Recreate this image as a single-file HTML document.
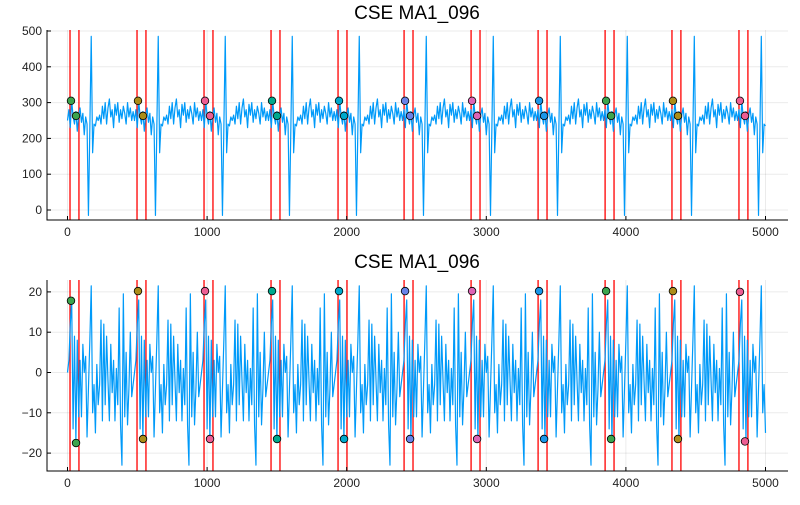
<!DOCTYPE html>
<html><head><meta charset="utf-8"><style>
body{margin:0;background:#fff;font-family:"Liberation Sans",sans-serif}
svg text{font-family:"Liberation Sans",sans-serif}
</style></head><body>
<svg id="c" width="800" height="500" xmlns="http://www.w3.org/2000/svg"></svg>
<script>
const topBeat=[250,280,230,305,262,240,275,220,265,285,245,270,210,260,240,-15,230,485,160,240,235,260,250,265,240,290,255,300,240,285,310,260,280,230,295,265,300,245,280,255,290,270,240,300,260,285,250,275];
const botBeat=[0,3,12,18,-14,9,-17,8,-11,3,-11,7,0,4,-16,-4,8,21.5,-10,-3,-15,2,-8,-3,13,-12,12,-8,9,-2,-12,7,-5,3,-12,1,-8,16,-13,-23,19.5,-11,5,-13,-4,10,-6,-3];
const beatStarts=[25,505,985,1465,1945,2418,2898,3378,3858,4337,4817];
const beatColors=["#3da44d","#ac8d18","#ed5e93","#00a98d","#00a8cb","#6a82e8","#de64b5","#1a96e8","#3da44d","#ac8d18","#ed5e93"];
const topUpper=[305,305,305,305,305,305,305,305,305,305,305];
const topLower=[263,263,263,263,263,263,263,263,263,263,263];
const botUpper=[17.8,20.2,20.2,20.2,20.2,20.2,20.2,20.2,20.2,20.2,20];
const botLower=[-17.5,-16.5,-16.5,-16.5,-16.5,-16.5,-16.5,-16.5,-16.5,-16.5,-17.1];
const xTicks=[0,1000,2000,3000,4000,5000];
const topYTicks=[0,100,200,300,400,500];
const botYTicks=[-20,-10,0,10,20];
const lowerOffset=36, redA=-7, redB=57;

const NS="http://www.w3.org/2000/svg";
const svg=document.getElementById('c');
function el(t,a,p){const e=document.createElementNS(NS,t);for(const k in a)e.setAttribute(k,a[k]);(p||svg).appendChild(e);return e;}
const sx=v=>67.5+v*0.1396;

function panel(name,top,bottom,yScale,yTicks,beat,upper,lower){
  const g=el('g',{});
  
  
  xTicks.forEach(t=>{const l=el('line',{x1:sx(t),x2:sx(t),y1:top,y2:bottom,stroke:'#000','stroke-opacity':0.08,'stroke-width':1},g);
    });
  yTicks.forEach(t=>{const l=el('line',{x1:47,x2:788,y1:yScale(t),y2:yScale(t),stroke:'#000','stroke-opacity':0.08,'stroke-width':1},g);
    });
  beatStarts.forEach(s=>{[redA,redB].forEach(o=>{const l=el('line',{x1:sx(s+o),x2:sx(s+o),y1:top,y2:bottom,stroke:'#ff0000','stroke-width':1.3},g);
    });});
  let d='';
  for(let i=0;i<=500;i++){const s=i*10;const v=beat[i%beat.length];d+=(i?'L':'M')+sx(s).toFixed(2)+','+yScale(v).toFixed(2);}
  const p=el('path',{d:d,fill:'none',stroke:'#009af9','stroke-width':1.2,'stroke-linejoin':'round'},g);
  
  beatStarts.forEach((s,i)=>{
    const a=el('circle',{cx:sx(s),cy:yScale(upper[i]),r:3.8,fill:beatColors[i],stroke:'#000','stroke-width':0.8},g);
    
    const b=el('circle',{cx:sx(s+lowerOffset),cy:yScale(lower[i]),r:3.8,fill:beatColors[i],stroke:'#000','stroke-width':0.8},g);
    
  });
  const ax=el('path',{d:`M47,${top}V${bottom}H788`,fill:'none',stroke:'#000','stroke-width':1},g);
  
  xTicks.forEach(t=>{el('line',{x1:sx(t),x2:sx(t),y1:bottom,y2:bottom-4,stroke:'#000'},g);
    const tx=el('text',{x:sx(t),y:bottom+16,'text-anchor':'middle','font-size':12,fill:'#222'},g);tx.textContent=t;
    });
  yTicks.forEach(t=>{el('line',{x1:47,x2:51,y1:yScale(t),y2:yScale(t),stroke:'#000'},g);
    const tx=el('text',{x:42,y:yScale(t)+4,'text-anchor':'end','font-size':12,fill:'#222'},g);tx.textContent=(t<0?'\u2212'+(-t):t);
    });
}
panel('top-panel',30,220,v=>210-v*0.358,topYTicks,topBeat,topUpper,topLower);
panel('bottom-panel',280,471,v=>372.5-v*4.03,botYTicks,botBeat,botUpper,botLower);
const t1=el('text',{x:417,y:19,'text-anchor':'middle','font-size':19,fill:'#000'});t1.textContent='CSE MA1_096';

const t2=el('text',{x:417,y:268,'text-anchor':'middle','font-size':19,fill:'#000'});t2.textContent='CSE MA1_096';

</script>
</body></html>
